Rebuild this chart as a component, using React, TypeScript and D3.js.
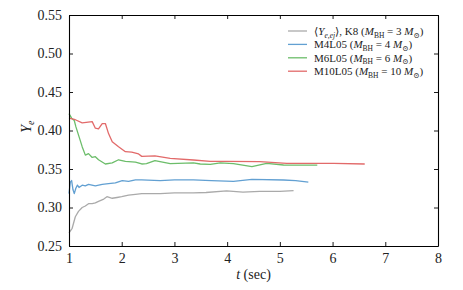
import React, { useEffect, useRef } from 'react';
import * as d3 from 'd3';

// data: [t (sec), Ye]
const k8Avg = [
  [1.0, 0.267], [1.06, 0.273], [1.12, 0.288], [1.18, 0.295], [1.25, 0.300], [1.31, 0.302],
  [1.37, 0.305], [1.44, 0.305], [1.5, 0.306], [1.56, 0.308], [1.66, 0.311], [1.72, 0.314],
  [1.82, 0.312], [1.91, 0.313], [2.0, 0.314], [2.13, 0.316], [2.26, 0.317], [2.38, 0.318],
  [2.73, 0.318], [3.0, 0.319], [3.36, 0.319], [3.6, 0.3195], [3.99, 0.3215], [4.3, 0.320],
  [4.62, 0.321], [5.0, 0.321], [5.26, 0.322],
];
const m4l05 = [
  [1.0, 0.318], [1.025, 0.333], [1.05, 0.335], [1.076, 0.323], [1.1, 0.318], [1.13, 0.325],
  [1.16, 0.329], [1.19, 0.326], [1.25, 0.329], [1.31, 0.328], [1.37, 0.330], [1.5, 0.328],
  [1.63, 0.330], [1.75, 0.331], [1.88, 0.332], [2.01, 0.335], [2.13, 0.334], [2.26, 0.336],
  [2.38, 0.336], [2.73, 0.335], [3.0, 0.336], [3.36, 0.336], [3.7, 0.335], [4.12, 0.334],
  [4.47, 0.3365], [5.07, 0.3357], [5.3, 0.335], [5.54, 0.333],
];
const m6l05 = [
  [1.0, 0.422], [1.05, 0.416], [1.1, 0.413], [1.13, 0.405], [1.19, 0.392], [1.25, 0.379],
  [1.31, 0.368], [1.37, 0.370], [1.44, 0.365], [1.5, 0.366], [1.56, 0.362], [1.69, 0.3565],
  [1.82, 0.358], [1.94, 0.362], [2.07, 0.360], [2.26, 0.359], [2.38, 0.3565], [2.47, 0.357],
  [2.63, 0.361], [2.92, 0.357], [3.36, 0.358], [3.49, 0.3565], [3.68, 0.356], [3.87, 0.358],
  [4.12, 0.357], [4.47, 0.353], [4.75, 0.3574], [5.07, 0.3552], [5.4, 0.355], [5.71, 0.355],
];
const m10l05 = [
  [1.0, 0.416], [1.12, 0.414], [1.25, 0.410], [1.44, 0.4115], [1.5, 0.403], [1.56, 0.402],
  [1.63, 0.409], [1.69, 0.409], [1.75, 0.396], [1.82, 0.3855], [1.94, 0.379], [2.07, 0.3725],
  [2.19, 0.372], [2.32, 0.3695], [2.38, 0.3664], [2.63, 0.367], [2.92, 0.3638], [3.36, 0.3617],
  [3.68, 0.360], [4.0, 0.360], [4.62, 0.3595], [5.13, 0.3574], [6.02, 0.3574], [6.61, 0.3565],
];

const xTicks = [1, 2, 3, 4, 5, 6, 7, 8];
const yTicks = [0.25, 0.3, 0.35, 0.4, 0.45, 0.5, 0.55];

// legend labels as pieces: it = italic, sub = subscript
const labels = [
  [{ t: '⟨' }, { t: 'Y', it: 1 }, { t: 'e,ej', it: 1, sub: 1 }, { t: '⟩, K8 (' }, { t: 'M', it: 1 }, { t: 'BH', sub: 1 }, { t: ' = 3 ' }, { t: 'M', it: 1 }, { t: '⊙', sub: 1 }, { t: ')' }],
  [{ t: 'M4L05 (' }, { t: 'M', it: 1 }, { t: 'BH', sub: 1 }, { t: ' = 4 ' }, { t: 'M', it: 1 }, { t: '⊙', sub: 1 }, { t: ')' }],
  [{ t: 'M6L05 (' }, { t: 'M', it: 1 }, { t: 'BH', sub: 1 }, { t: ' = 6 ' }, { t: 'M', it: 1 }, { t: '⊙', sub: 1 }, { t: ')' }],
  [{ t: 'M10L05 (' }, { t: 'M', it: 1 }, { t: 'BH', sub: 1 }, { t: ' = 10 ' }, { t: 'M', it: 1 }, { t: '⊙', sub: 1 }, { t: ')' }],
];
const colors = ['#aaaaaa', '#62a0d2', '#6cbd6a', '#e26a6a'];

const W = 463, H = 290;
const FONT = '"Liberation Serif", "DejaVu Serif", serif';

export default function App() {
  const ref = useRef<SVGSVGElement>(null);

  useEffect(() => {
    const margin = { top: 15, right: 25, bottom: 44, left: 69 };
    const x = d3.scaleLinear().domain([1, 8]).range([margin.left, W - margin.right]);
    const y = d3.scaleLinear().domain([0.25, 0.55]).range([H - margin.bottom, margin.top]);

    const svg = d3.select(ref.current);
    svg.selectAll('*').remove();
    svg.style('font-family', FONT);

    // series
    const line = d3.line<number[]>().x(d => x(d[0])).y(d => y(d[1]));
    [k8Avg, m4l05, m6l05, m10l05].forEach((s, i) => {
      svg.append('path').datum(s)
        .attr('d', line)
        .attr('fill', 'none')
        .attr('stroke', colors[i])
        .attr('stroke-width', 1.3)
        .attr('stroke-linejoin', 'round');
    });

    // axes, ticks inward on every side
    const tk = 4;
    const g = svg.append('g');
    g.append('g').attr('transform', `translate(0,${y(0.25)})`)
      .call(d3.axisBottom(x).tickValues(xTicks).tickSizeInner(-tk).tickSizeOuter(0).tickPadding(7).tickFormat(d3.format('d')));
    g.append('g').attr('transform', `translate(0,${y(0.55)})`)
      .call(d3.axisTop(x).tickValues(xTicks).tickSizeInner(-tk).tickSizeOuter(0).tickFormat(() => ''));
    g.append('g').attr('transform', `translate(${x(1)},0)`)
      .call(d3.axisLeft(y).tickValues(yTicks).tickSizeInner(-tk).tickSizeOuter(0).tickPadding(7).tickFormat(d3.format('.2f')));
    g.append('g').attr('transform', `translate(${x(8)},0)`)
      .call(d3.axisRight(y).tickValues(yTicks).tickSizeInner(-tk).tickSizeOuter(0).tickFormat(() => ''));
    g.selectAll('.domain').attr('stroke', '#000').attr('stroke-width', 1.1);
    g.selectAll('.tick line').attr('stroke', '#000').attr('stroke-width', 0.9);
    g.selectAll('.tick text').attr('font-size', 14).attr('font-family', FONT).attr('fill', '#222');

    // axis titles
    const xl = svg.append('text').attr('x', (x(1) + x(8)) / 2).attr('y', 279)
      .attr('text-anchor', 'middle').attr('font-size', 14).attr('fill', '#222');
    xl.append('tspan').attr('font-style', 'italic').text('t');
    xl.append('tspan').text(' (sec)');

    const yl = svg.append('text').attr('transform', `translate(31,${y(0.405)}) rotate(-90)`)
      .attr('text-anchor', 'middle').attr('font-size', 14).attr('fill', '#222');
    yl.append('tspan').attr('font-style', 'italic').text('Y');
    yl.append('tspan').attr('font-style', 'italic').attr('font-size', 10).attr('dy', 3).text('e');

    // legend
    const lg = svg.append('g').attr('transform', 'translate(288,31)');
    labels.forEach((parts, i) => {
      const row = lg.append('g').attr('transform', `translate(0,${i * 13.4})`);
      row.append('line').attr('x1', 0).attr('x2', 19).attr('y1', 0).attr('y2', 0)
        .attr('stroke', colors[i]).attr('stroke-width', 1.3);
      const t = row.append('text').attr('x', 26).attr('y', 4).attr('font-size', 11).attr('fill', '#222');
      let down = false;
      parts.forEach((p: any) => {
        const ts = t.append('tspan').text(p.t);
        if (p.it) ts.attr('font-style', 'italic');
        if (p.sub && !down) { ts.attr('dy', 2.5).attr('font-size', 7.5); down = true; }
        else if (p.sub) ts.attr('font-size', 7.5);
        else if (down) { ts.attr('dy', -2.5); down = false; }
      });
    });
  }, []);

  return (
    <svg ref={ref} width={W} height={H} style={{ position: 'absolute', left: 0, top: 0, background: '#fff' }} />
  );
}
